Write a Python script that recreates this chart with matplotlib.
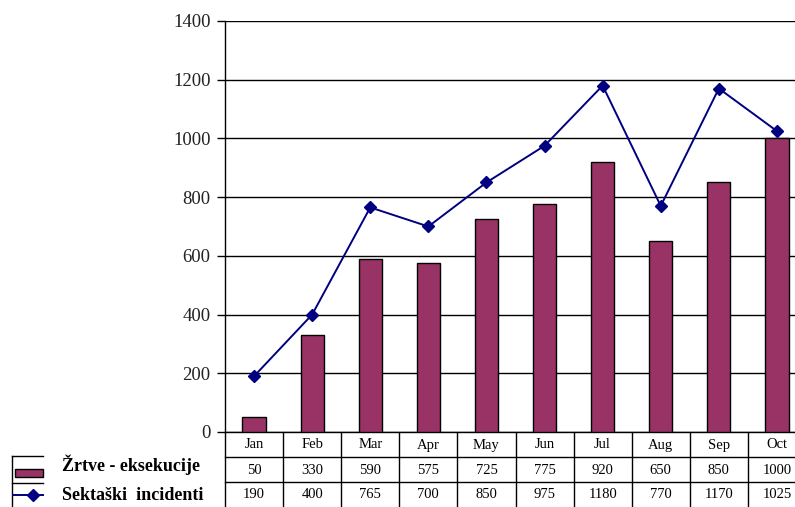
import matplotlib
matplotlib.use("Agg")
import matplotlib.pyplot as plt
from matplotlib import transforms
from matplotlib.patches import Rectangle
from matplotlib.lines import Line2D

months = ["Jan", "Feb", "Mar", "Apr", "May", "Jun", "Jul", "Aug", "Sep", "Oct"]
zrtve = [50, 330, 590, 575, 725, 775, 920, 650, 850, 1000]
incidenti = [190, 400, 765, 700, 850, 975, 1180, 770, 1170, 1025]
yticks = [0, 200, 400, 600, 800, 1000, 1200, 1400]
label_bar = "Žrtve - eksekucije"
label_line = "Sektaški  incidenti"

BAR_COLOR = "#993366"
LINE_COLOR = "#000080"
SERIF = ["Liberation Serif", "DejaVu Serif"]
plt.rcParams["font.family"] = SERIF

W, H = 795, 507
fig = plt.figure(figsize=(W / 100, H / 100), dpi=100)

# pixel-coordinate overlay axes
pax = fig.add_axes([0, 0, 1, 1])
pax.set_xlim(0, W)
pax.set_ylim(H, 0)
pax.axis("off")

x0, x1 = 225, 806
ytop, ybot = 21, 432
ax = fig.add_axes([x0 / W, (H - ybot) / H, (x1 - x0) / W, (ybot - ytop) / H])
n = len(months)
xs = [i + 0.5 for i in range(n)]
ax.set_xlim(0, n)
ax.set_ylim(0, 1400)
ax.set_yticks(yticks)
ax.set_yticklabels([str(v) for v in yticks], fontsize=13.5, family=SERIF, color="#222222")
ax.set_xticks([])
ax.grid(axis="y", color="black", linewidth=1.0)
ax.set_axisbelow(True)
for s in ["top", "right"]:
    ax.spines[s].set_visible(False)
ax.spines["left"].set_linewidth(1.0)
ax.spines["bottom"].set_linewidth(1.0)
ax.tick_params(axis="y", direction="out", length=5.5, width=1.0, pad=5, colors="black",
               labelcolor="#222222")

ax.bar(xs, zrtve, width=0.4, color=BAR_COLOR, edgecolor="black", linewidth=1.0, zorder=3)
ax.plot(xs, incidenti, color=LINE_COLOR, linewidth=1.4, marker="D", markersize=6.5,
        markerfacecolor=LINE_COLOR, markeredgecolor=LINE_COLOR, zorder=4, clip_on=False)

# data table below the axis
tr = transforms.blended_transform_factory(ax.transData, pax.transData)
for yy in [457, 482]:
    pax.add_line(Line2D([0, n], [yy, yy], transform=tr, color="black", lw=1.0, clip_on=False))
for i in range(n + 1):
    pax.add_line(Line2D([i, i], [432, 507], transform=tr, color="black", lw=1.0, clip_on=False))
for i, m in enumerate(months):
    pax.text(xs[i], 445, m, transform=tr, ha="center", va="center", fontsize=10.5)
    pax.text(xs[i], 470, str(zrtve[i]), transform=tr, ha="center", va="center", fontsize=10.5)
    pax.text(xs[i], 495, str(incidenti[i]), transform=tr, ha="center", va="center", fontsize=10.5)

# legend keys on the left
pax.add_line(Line2D([12, 12], [456, 507], color="black", lw=1.0))
pax.add_line(Line2D([12, 43], [456, 456], color="black", lw=1.0))
pax.add_line(Line2D([12, 43], [483, 483], color="black", lw=1.0))
pax.add_patch(Rectangle((15, 469), 28, 8, facecolor=BAR_COLOR, edgecolor="black", lw=1.0))
pax.add_line(Line2D([13, 43], [495, 495], color=LINE_COLOR, lw=1.4))
pax.add_line(Line2D([33], [495], color=LINE_COLOR, marker="D", markersize=6.5, lw=0))
pax.text(62, 465, label_bar, ha="left", va="center", fontsize=13, fontweight="bold")
pax.text(62, 496, label_line, ha="left", va="center", fontsize=13, fontweight="bold")

fig.savefig("out.png", dpi=100)
